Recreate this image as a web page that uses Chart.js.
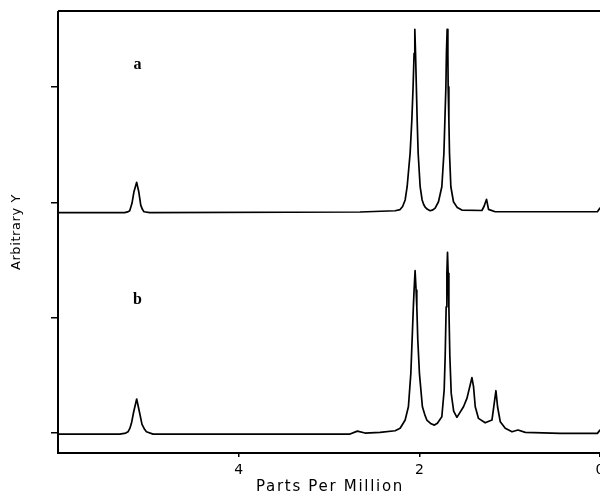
<!DOCTYPE html>
<html>
<head>
<meta charset="utf-8">
<script src="https://cdn.jsdelivr.net/npm/chart.js@4/dist/chart.umd.min.js"></script>
<style>
  html, body { margin: 0; padding: 0; background: #fff; overflow: hidden; }
  #wrap { width: 640px; height: 494px; }
</style>
</head>
<body>
<div id="wrap"><canvas id="nmr"></canvas></div>
<script>
// spectrum a (upper trace)
const aPpm = [6.0, 5.262, 5.23, 5.206, 5.181, 5.159, 5.129, 5.106, 5.084, 5.066, 5.048, 4.984,
  2.656, 2.268, 2.213, 2.185, 2.157, 2.135, 2.102, 2.083, 2.069, 2.058, 2.050, 2.042, 2.033,
  2.024, 2.013, 1.991, 1.969, 1.952, 1.936, 1.91, 1.880, 1.85, 1.825, 1.788, 1.751, 1.728,
  1.717, 1.706, 1.700, 1.692, 1.684, 1.681, 1.673, 1.666, 1.651, 1.622, 1.58, 1.529, 1.307,
  1.282, 1.256, 1.234, 1.160, 0.029, 0.0];
const aY = [1.912, 1.912, 1.918, 1.928, 1.992, 2.093, 2.174, 2.093, 1.977, 1.94, 1.919, 1.911,
  1.917, 1.928, 1.938, 1.965, 2.021, 2.136, 2.426, 2.715, 3.003, 3.293, 3.501, 3.293, 3.003,
  2.715, 2.426, 2.136, 2.021, 1.982, 1.960, 1.94, 1.928, 1.935, 1.951, 2.006, 2.136, 2.426,
  2.715, 3.003, 3.293, 3.501, 3.293, 3.003, 2.715, 2.426, 2.136, 2.006, 1.955, 1.934, 1.930,
  1.969, 2.027, 1.940, 1.919, 1.919, 1.951];

// spectrum b (lower trace)
const bPpm = [6.0, 5.316, 5.25, 5.225, 5.205, 5.187, 5.162, 5.129, 5.099, 5.070, 5.04, 5.021,
  4.948, 3.322, 2.767, 2.686, 2.601, 2.435, 2.268, 2.213, 2.19, 2.157, 2.121, 2.094, 2.080,
  2.066, 2.058, 2.047, 2.036, 2.028, 2.017, 1.999, 1.966, 1.94, 1.917, 1.87, 1.833, 1.80,
  1.751, 1.725, 1.714, 1.703, 1.695, 1.688, 1.681, 1.673, 1.662, 1.647, 1.62, 1.584, 1.511,
  1.473, 1.418, 1.400, 1.381, 1.345, 1.271, 1.196, 1.171, 1.152, 1.134, 1.104, 1.049, 0.974,
  0.908, 0.827, 0.439, 0.029, 0.0];
const bY = [-0.01, -0.01, 0.0, 0.011, 0.04, 0.084, 0.185, 0.295, 0.185, 0.075, 0.03, 0.011,
  -0.009, -0.009, -0.009, 0.017, 0.0, 0.006, 0.020, 0.041, 0.07, 0.113, 0.228, 0.518, 0.807,
  1.095, 1.240, 1.408, 1.240, 1.095, 0.807, 0.518, 0.228, 0.16, 0.113, 0.08, 0.069, 0.085,
  0.141, 0.373, 0.662, 1.095, 1.385, 1.567, 1.385, 1.095, 0.662, 0.344, 0.19, 0.136, 0.228,
  0.301, 0.480, 0.402, 0.228, 0.127, 0.089, 0.113, 0.258, 0.367, 0.228, 0.098, 0.041, 0.011,
  0.026, 0.006, -0.003, -0.003, 0.026];

const xTicks = [4, 2, 0];
const yTicks = [0, 1, 2, 3];
const traceNames = ['a', 'b'];
const namePpm = [5.12, 5.12];
const nameY = [3.19, 1.153];

const toPoints = (xs, ys) => xs.map((x, i) => ({ x: x, y: ys[i] }));

// frame round the plot area, axis titles (spaced out like the plotter font) and a / b labels
const framePlugin = {
  id: 'frame',
  afterDraw(chart) {
    const { ctx, chartArea: ca, scales } = chart;
    ctx.save();
    ctx.strokeStyle = '#000';
    ctx.lineWidth = 2;
    ctx.beginPath();
    ctx.moveTo(ca.left, ca.top);
    ctx.lineTo(ca.right, ca.top);
    ctx.moveTo(ca.left, ca.top);
    ctx.lineTo(ca.left, ca.bottom);
    ctx.lineTo(ca.right, ca.bottom);
    ctx.stroke();

    ctx.fillStyle = '#000';
    ctx.textAlign = 'center';
    ctx.textBaseline = 'middle';

    ctx.font = '15px "DejaVu Sans"';
    ctx.letterSpacing = '1.7px';
    ctx.fillText('Parts Per Million', (ca.left + ca.right) / 2 + 1, 487);

    ctx.save();
    ctx.font = '13px "DejaVu Sans"';
    ctx.letterSpacing = '0.6px';
    ctx.translate(17, (ca.top + ca.bottom) / 2);
    ctx.rotate(-Math.PI / 2);
    ctx.fillText('Arbitrary Y', 0, 0);
    ctx.restore();

    ctx.letterSpacing = '0px';
    ctx.font = 'bold 16px "Liberation Serif"';
    traceNames.forEach((t, i) => {
      ctx.fillText(t, scales.x.getPixelForValue(namePpm[i]), scales.y.getPixelForValue(nameY[i]));
    });
    ctx.restore();
  }
};

new Chart(document.getElementById('nmr'), {
  type: 'line',
  data: {
    datasets: [
      { label: 'a', data: toPoints(aPpm, aY) },
      { label: 'b', data: toPoints(bPpm, bY) }
    ]
  },
  options: {
    responsive: true,
    maintainAspectRatio: false,
    animation: false,
    parsing: false,
    layout: { padding: { top: 11, right: 40, left: 0, bottom: 0 } },
    elements: {
      line: {
        borderColor: '#000', borderWidth: 1.7, tension: 0, fill: false,
        borderJoinStyle: 'round', borderCapStyle: 'round'
      },
      point: { radius: 0 }
    },
    plugins: {
      legend: { display: false },
      tooltip: { enabled: false }
    },
    scales: {
      x: {
        type: 'linear',
        reverse: true,
        min: 0,
        max: 6,
        afterBuildTicks: s => { s.ticks = xTicks.map(v => ({ value: v })); },
        afterFit: s => { s.height = 41; },
        grid: { drawOnChartArea: false, tickLength: 4, color: '#000', lineWidth: 1.5 },
        border: { display: false },
        ticks: { color: '#000', padding: 5, maxRotation: 0, font: { family: 'DejaVu Sans', size: 14 } },
        title: { display: false }
      },
      y: {
        type: 'linear',
        min: -0.173,
        max: 3.66,
        afterBuildTicks: s => { s.ticks = yTicks.map(v => ({ value: v })); },
        afterFit: s => { s.width = 58; },
        grid: { drawOnChartArea: false, tickLength: 7, color: '#000', lineWidth: 1.5 },
        border: { display: false },
        ticks: { display: false },
        title: { display: false }
      }
    }
  },
  plugins: [framePlugin]
});
</script>
</body>
</html>
